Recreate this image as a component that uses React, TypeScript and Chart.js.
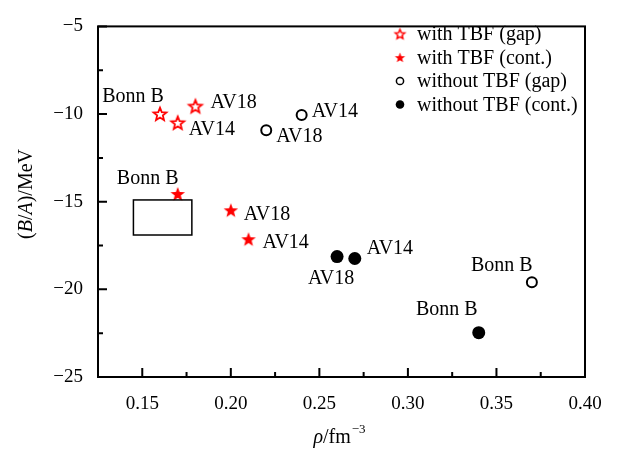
import React, { useEffect, useRef } from 'react';
import { Chart, registerables } from 'chart.js';
Chart.register(...registerables);

const seriesNames = ['with TBF (gap)', 'with TBF (cont.)', 'without TBF (gap)', 'without TBF (cont.)'];

const tbfGapRho = [0.16, 0.17, 0.18];
const tbfGapE = [-10.0, -10.5, -9.56];
const tbfGapLabels = ['Bonn B', 'AV14', 'AV18'];

const tbfContRho = [0.17, 0.20, 0.21];
const tbfContE = [-14.56, -15.49, -17.14];
const tbfContLabels = ['Bonn B', 'AV18', 'AV14'];

const noTbfGapRho = [0.24, 0.22, 0.37];
const noTbfGapE = [-10.05, -10.93, -19.6];
const noTbfGapLabels = ['AV14', 'AV18', 'Bonn B'];

const noTbfContRho = [0.26, 0.27, 0.34];
const noTbfContE = [-18.13, -18.24, -22.47];
const noTbfContLabels = ['AV18', 'AV14', 'Bonn B'];

const empiricalRho = [0.145, 0.178];
const empiricalE = [-14.9, -16.9];

const xMajorTicks = [0.15, 0.2, 0.25, 0.3, 0.35, 0.4];
const xMinorTicks = [0.175, 0.225, 0.275, 0.325, 0.375];
const yMajorTicks = [-25, -20, -15, -10, -5];
const yMinorTicks = [-22.5, -17.5, -12.5, -7.5];

// label placement (pixel offsets from the mark): [align, dx, dy]
const labelPlacement: [CanvasTextAlign, number, number][][] = [
  [['center', -27, -17], ['left', 11, 7], ['left', 15, -4]],
  [['center', -30, -15], ['left', 13, 4], ['left', 14, 4]],
  [['left', 10, -3], ['left', 10, 6], ['center', -30, -17]],
  [['center', -6, 22], ['left', 12, -10], ['center', -32, -23]],
];

const FONT = '"Liberation Serif", "Times New Roman", serif';
const RED = '#ff0000';

function makeStar(outerR: number, innerR: number, fill: string, stroke: string | null, lw: number) {
  const size = Math.ceil(2 * (outerR + lw)) + 2;
  const c = document.createElement('canvas');
  c.width = size;
  c.height = size;
  const ctx = c.getContext('2d')!;
  const cx = size / 2, cy = size / 2 + 0.5;
  ctx.beginPath();
  for (let i = 0; i < 10; i++) {
    const r = i % 2 === 0 ? outerR : innerR;
    const a = -Math.PI / 2 + (i * Math.PI) / 5;
    const px = cx + r * Math.cos(a), py = cy + r * Math.sin(a);
    if (i === 0) ctx.moveTo(px, py); else ctx.lineTo(px, py);
  }
  ctx.closePath();
  ctx.fillStyle = fill;
  ctx.fill();
  if (stroke) {
    ctx.lineWidth = lw;
    ctx.strokeStyle = stroke;
    ctx.lineJoin = 'miter';
    ctx.stroke();
  }
  return c;
}

export default function App() {
  const ref = useRef<HTMLCanvasElement>(null);
  useEffect(() => {
    if (!ref.current) return;
    const openStar = makeStar(6.8, 3.0, '#ffffff', RED, 1.8);
    const fullStar = makeStar(7.6, 3.2, RED, null, 0);
    const openStarL = makeStar(5.0, 2.3, '#ffffff', RED, 1.5);
    const fullStarL = makeStar(5.4, 2.3, RED, null, 0);

    const toPts = (xs: number[], ys: number[]) => xs.map((x, i) => ({ x, y: ys[i] }));
    const allLabels = [tbfGapLabels, tbfContLabels, noTbfGapLabels, noTbfContLabels];

    const decor = {
      id: 'decor',
      afterDraw(chart: any) {
        const ctx = chart.ctx as CanvasRenderingContext2D;
        const xs = chart.scales.x, ys = chart.scales.y;
        const { left, right, top, bottom } = chart.chartArea;
        ctx.save();
        // frame
        ctx.strokeStyle = '#000';
        ctx.lineWidth = 2;
        ctx.strokeRect(left, top, right - left, bottom - top);
        // ticks (inward)
        ctx.beginPath();
        xMajorTicks.forEach(v => { const p = xs.getPixelForValue(v); ctx.moveTo(p, bottom); ctx.lineTo(p, bottom - 9); });
        xMinorTicks.forEach(v => { const p = xs.getPixelForValue(v); ctx.moveTo(p, bottom); ctx.lineTo(p, bottom - 5); });
        yMajorTicks.forEach(v => { const p = ys.getPixelForValue(v); ctx.moveTo(left, p); ctx.lineTo(left + 9, p); });
        yMinorTicks.forEach(v => { const p = ys.getPixelForValue(v); ctx.moveTo(left, p); ctx.lineTo(left + 5, p); });
        ctx.stroke();
        // empirical box
        const bx0 = xs.getPixelForValue(empiricalRho[0]);
        const bx1 = xs.getPixelForValue(empiricalRho[1]);
        const by0 = ys.getPixelForValue(empiricalE[0]);
        const by1 = ys.getPixelForValue(empiricalE[1]);
        ctx.lineWidth = 1.5;
        ctx.strokeRect(bx0, by0, bx1 - bx0, by1 - by0);
        // point labels
        ctx.fillStyle = '#000';
        ctx.font = `20px ${FONT}`;
        ctx.textBaseline = 'middle';
        chart.data.datasets.forEach((ds: any, di: number) => {
          const meta = chart.getDatasetMeta(di);
          meta.data.forEach((el: any, i: number) => {
            const [al, dx, dy] = labelPlacement[di][i];
            ctx.textAlign = al;
            ctx.fillText(allLabels[di][i], el.x + dx, el.y + dy);
          });
        });
        // legend
        const lx = 400, ly0 = 34, lstep = 23.5;
        ctx.textAlign = 'left';
        seriesNames.forEach((name, i) => {
          const y = ly0 + i * lstep;
          if (i === 0) ctx.drawImage(openStarL, lx - openStarL.width / 2, y - openStarL.height / 2);
          if (i === 1) ctx.drawImage(fullStarL, lx - fullStarL.width / 2, y - fullStarL.height / 2);
          if (i === 2) {
            ctx.beginPath(); ctx.arc(lx, y, 3.6, 0, Math.PI * 2);
            ctx.fillStyle = '#fff'; ctx.fill();
            ctx.lineWidth = 1.5; ctx.strokeStyle = '#000'; ctx.stroke();
          }
          if (i === 3) {
            ctx.beginPath(); ctx.arc(lx, y, 4.3, 0, Math.PI * 2);
            ctx.fillStyle = '#000'; ctx.fill();
          }
          ctx.fillStyle = '#000';
          ctx.fillText(name, 417, y + 1);
        });
        // y axis title
        const segs: [string, boolean][] = [['(', false], ['B', true], ['/', false], ['A', true], [')/MeV', false]];
        const fontN = `20px ${FONT}`, fontI = `italic 20px ${FONT}`;
        let tot = 0;
        segs.forEach(([t, it]) => { ctx.font = it ? fontI : fontN; tot += ctx.measureText(t).width; });
        ctx.save();
        ctx.translate(27, 194);
        ctx.rotate(-Math.PI / 2);
        let cx = -tot / 2;
        ctx.textAlign = 'left';
        segs.forEach(([t, it]) => { ctx.font = it ? fontI : fontN; ctx.fillText(t, cx, 0); cx += ctx.measureText(t).width; });
        ctx.restore();
        // x axis title
        const fontS = `13px ${FONT}`;
        ctx.font = fontI; const w1 = ctx.measureText('ρ').width;
        ctx.font = fontN; const w2 = ctx.measureText('/fm').width;
        ctx.font = fontS; const w3 = ctx.measureText('−3').width;
        let tx = 339 - (w1 + w2 + w3) / 2;
        const ty = 438;
        ctx.textAlign = 'left';
        ctx.font = fontI; ctx.fillText('ρ', tx, ty); tx += w1;
        ctx.font = fontN; ctx.fillText('/fm', tx, ty); tx += w2;
        ctx.font = fontS; ctx.fillText('−3', tx + 1, ty - 8);
        ctx.restore();
      },
    };

    const chart = new Chart(ref.current, {
      type: 'scatter',
      data: {
        datasets: [
          { label: seriesNames[0], data: toPts(tbfGapRho, tbfGapE), pointStyle: openStar as any, pointRadius: 7 },
          { label: seriesNames[1], data: toPts(tbfContRho, tbfContE), pointStyle: fullStar as any, pointRadius: 8 },
          { label: seriesNames[2], data: toPts(noTbfGapRho, noTbfGapE), pointStyle: 'circle', pointRadius: 5, borderWidth: 2, borderColor: '#000', backgroundColor: '#fff' },
          { label: seriesNames[3], data: toPts(noTbfContRho, noTbfContE), pointStyle: 'circle', pointRadius: 6.5, borderWidth: 0, borderColor: '#000', backgroundColor: '#000' },
        ],
      },
      options: {
        responsive: false,
        animation: false,
        layout: { padding: { left: 0, right: 33, top: 13, bottom: 0 } },
        plugins: { legend: { display: false }, tooltip: { enabled: false } },
        scales: {
          x: {
            type: 'linear',
            min: 0.125,
            max: 0.4,
            grid: { display: false, drawTicks: false },
            border: { display: false },
            afterFit: (s: any) => { s.height = 76; },
            afterBuildTicks: (s: any) => { s.ticks = xMajorTicks.map(v => ({ value: v })); },
            ticks: {
              padding: 16,
              color: '#000',
              font: { family: FONT, size: 19 },
              callback: (v: any) => Number(v).toFixed(2),
            },
          },
          y: {
            type: 'linear',
            min: -25,
            max: -5,
            grid: { display: false, drawTicks: false },
            border: { display: false },
            afterFit: (s: any) => { s.width = 98; },
            afterBuildTicks: (s: any) => { s.ticks = yMajorTicks.map(v => ({ value: v })); },
            ticks: {
              padding: 15,
              color: '#000',
              font: { family: FONT, size: 19 },
              callback: (v: any) => (Number(v) < 0 ? '−' + Math.abs(Number(v)) : String(v)),
            },
          },
        },
      },
      plugins: [decor],
    });
    return () => chart.destroy();
  }, []);
  return (
    <div style={{ position: 'fixed', left: 0, top: 0, width: 618, height: 453, background: '#fff' }}>
      <canvas ref={ref} width={618} height={453} style={{ display: 'block' }} />
    </div>
  );
}
